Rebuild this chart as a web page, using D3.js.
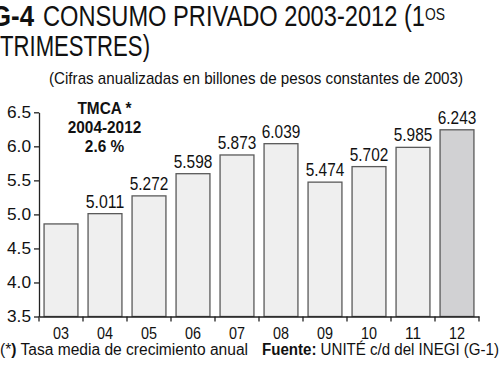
<!DOCTYPE html>
<html><head><meta charset="utf-8">
<script src="https://cdn.jsdelivr.net/npm/d3@7"></script>
<style>
body{margin:0;background:#fff;}
svg{display:block;font-family:"Liberation Sans",Arial,sans-serif;}
</style></head><body>
<svg id="c" width="500" height="369"></svg>
<script>
const categories = ["03","04","05","06","07","08","09","10","11","12"];
const values = [4.86,5.011,5.272,5.598,5.873,6.039,5.474,5.702,5.985,6.243];
const labels = [null,"5.011","5.272","5.598","5.873","6.039","5.474","5.702","5.985","6.243"];
const yTicks = [3.5,4.0,4.5,5.0,5.5,6.0,6.5];
const annotation = ["TMCA *","2004-2012","2.6 %"];

const svg = d3.select("#c");
const x0 = 39, x1 = 479, yTop = 112.3, yBot = 316.5;
const p = 0.23;
const x = d3.scaleBand().domain(categories).range([x0,x1]).paddingInner(p).paddingOuter(p/2);
const y = d3.scaleLinear().domain([3.5,6.5]).range([yBot,yTop]);
const step = x.step();

function squeeze(sel, f){
  sel.each(function(){
    const w = this.getComputedTextLength();
    d3.select(this).attr("textLength", w*f).attr("lengthAdjust","spacingAndGlyphs");
  });
}
function fit(sel, w){ sel.attr("textLength", w).attr("lengthAdjust","spacingAndGlyphs"); }

// title
svg.append("text").attr("x",34).attr("y",26).attr("font-size",29).attr("font-weight","bold")
  .attr("text-anchor","end").attr("fill","#111").text("G-4").call(s=>fit(s,43));
const t = svg.append("text").attr("x",43).attr("y",26).attr("font-size",29).attr("fill","#111");
t.append("tspan").text("CONSUMO PRIVADO 2003-2012 (1");
t.append("tspan").attr("font-size",17).attr("dy",-6).text("OS");
fit(t,402);
svg.append("text").attr("x",0).attr("y",56).attr("font-size",29).attr("fill","#111")
  .text("TRIMESTRES)").call(s=>fit(s,150));
svg.append("text").attr("x",49).attr("y",84).attr("font-size",17).attr("fill","#111")
  .text("(Cifras anualizadas en billones de pesos constantes de 2003)").call(s=>fit(s,414));

// bars
svg.append("g").selectAll("rect").data(categories).join("rect")
  .attr("x",d=>x(d)).attr("width",x.bandwidth())
  .attr("y",(d,i)=>y(values[i])).attr("height",(d,i)=>yBot-y(values[i]))
  .attr("fill",(d,i)=>i===categories.length-1?"#d1d1d3":"#efefef")
  .attr("stroke","#5a5a5a").attr("stroke-width",1.3);

// value labels
svg.append("g").selectAll("text").data(categories.filter((d,i)=>labels[i])).join("text")
  .attr("x",d=>x(d)+x.bandwidth()/2)
  .attr("y",d=>y(values[categories.indexOf(d)])-6)
  .attr("text-anchor","middle").attr("font-size",18.5).attr("fill","#111")
  .text(d=>labels[categories.indexOf(d)]).call(s=>fit(s,38.5));

// y axis
const ya = svg.append("g").attr("transform",`translate(${x0},0)`)
  .call(d3.axisLeft(y).tickValues(yTicks).tickFormat(d3.format(".1f")).tickSize(5).tickSizeOuter(0));
ya.select(".domain").attr("stroke","#222").attr("stroke-width",1.3);
ya.selectAll(".tick line").attr("stroke","#222").attr("stroke-width",1.3);
ya.selectAll(".tick text").attr("font-size",17).attr("fill","#111").attr("font-family",null)
  .attr("x",-8).call(s=>fit(s,24));

// x axis
const xa = svg.append("g").attr("transform",`translate(0,${yBot})`)
  .call(d3.axisBottom(x).tickSize(0).tickSizeOuter(0));
xa.select(".domain").attr("stroke","#222").attr("stroke-width",1.3);
xa.selectAll(".tick text").attr("font-size",17).attr("fill","#111").attr("font-family",null)
  .attr("dy",0).attr("y",22.5).call(s=>fit(s,16));
const bounds = categories.map(d=>x(d)-step*p/2).concat([x1]);
xa.append("g").selectAll("line").data(bounds).join("line")
  .attr("x1",d=>d).attr("x2",d=>d).attr("y1",0).attr("y2",5)
  .attr("stroke","#222").attr("stroke-width",1.3);

// annotation
svg.append("g").selectAll("text").data(annotation).join("text")
  .attr("x",104.5).attr("y",(d,i)=>114+i*19)
  .attr("text-anchor","middle").attr("font-weight","bold").attr("font-size",16).attr("fill","#111")
  .text(d=>d).call(s=>squeeze(s,0.96));

// footer
const f = svg.append("text").attr("x",0).attr("y",355).attr("font-size",16).attr("fill","#111");
f.append("tspan").text("(*");
f.append("tspan").attr("font-weight","bold").text(")");
f.append("tspan").text(" Tasa media de crecimiento anual");
fit(f,248);
const f2 = svg.append("text").attr("x",262).attr("y",355).attr("font-size",16).attr("fill","#111");
f2.append("tspan").attr("font-weight","bold").text("Fuente:");
f2.append("tspan").text(" UNITÉ c/d del INEGI (G-1)");
fit(f2,237);
</script>
</body></html>
